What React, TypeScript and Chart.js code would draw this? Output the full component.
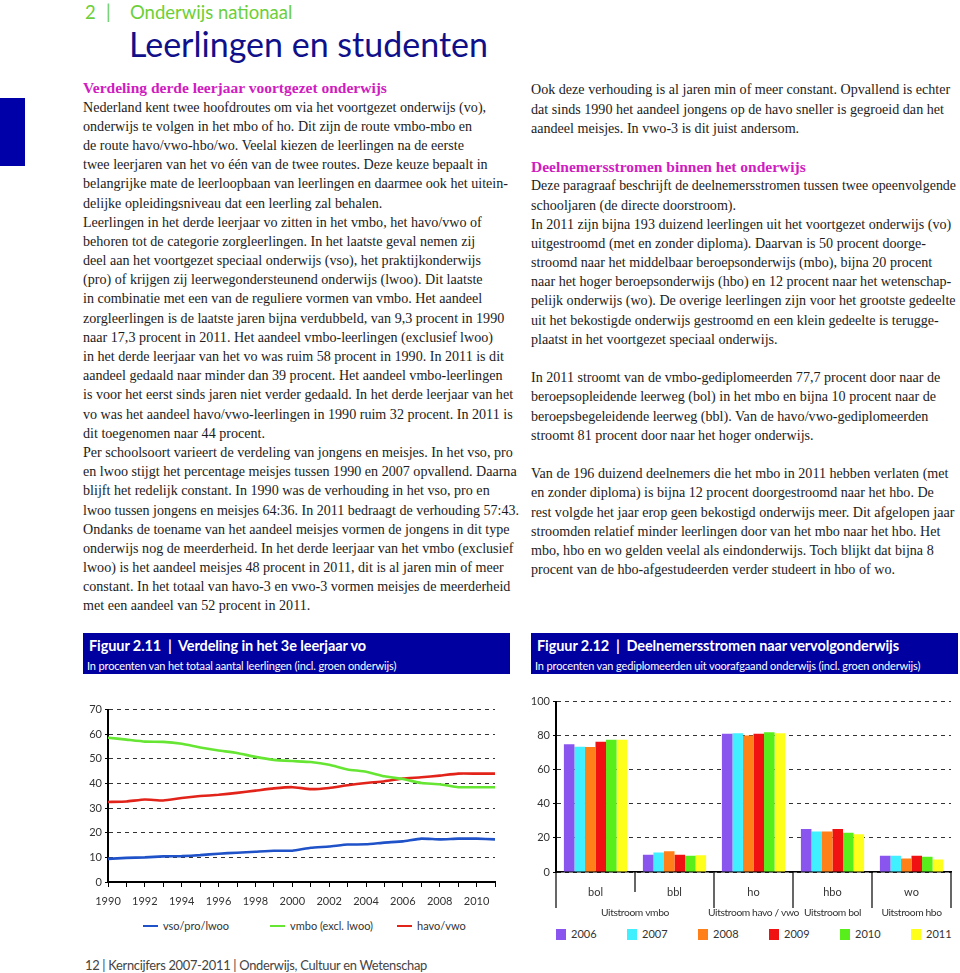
import React, { useEffect, useLayoutEffect, useRef } from "react";
import { Chart, registerables } from "chart.js";

Chart.register(...registerables);

// ---------- Figure 2.11 data ----------
const years = [
  "1990", "1991", "1992", "1993", "1994", "1995", "1996", "1997", "1998", "1999", "2000",
  "2001", "2002", "2003", "2004", "2005", "2006", "2007", "2008", "2009", "2010", "2011",
];
const vsoProLwoo = [9.4, 9.8, 10.0, 10.4, 10.5, 10.9, 11.5, 11.9, 12.3, 12.7, 12.7, 13.9, 14.4, 15.2, 15.3, 16.0, 16.5, 17.6, 17.3, 17.6, 17.6, 17.3];
const vmboExcl = [58.6, 57.8, 57.0, 56.9, 56.1, 54.6, 53.4, 52.4, 50.8, 49.6, 49.1, 48.7, 47.6, 45.7, 44.8, 42.9, 41.8, 40.2, 39.7, 38.5, 38.5, 38.5];
const havoVwo = [32.5, 32.7, 33.5, 33.1, 34.1, 34.9, 35.4, 36.2, 37.1, 38.0, 38.5, 37.7, 38.2, 39.3, 40.2, 40.9, 42.0, 42.5, 43.2, 44.0, 44.0, 44.0];
const lineSeriesNames = ["vso/pro/lwoo", "vmbo (excl. lwoo)", "havo/vwo"];
const lineColors = ["#1f52c8", "#66e633", "#e2231a"];

// ---------- Figure 2.12 data ----------
const barCategories = ["bol", "bbl", "ho", "hbo", "wo"];
const groupLabels = ["Uitstroom vmbo", "Uitstroom havo / vwo", "Uitstroom bol", "Uitstroom hbo"];
const groupSpans = [[0, 1], [2, 2], [3, 3], [4, 4]];
const barYears = ["2006", "2007", "2008", "2009", "2010", "2011"];
const v2006 = [74.9, 10.1, 81.2, 25.3, 9.5];
const v2007 = [73.5, 11.4, 81.4, 23.8, 9.5];
const v2008 = [73.3, 12.2, 80.1, 23.8, 7.9];
const v2009 = [76.4, 10.1, 81.2, 25.3, 9.5];
const v2010 = [77.6, 9.5, 82.0, 23.0, 8.9];
const v2011 = [77.6, 9.8, 81.4, 22.2, 7.4];
const barColors = ["#8a55ee", "#40f0ff", "#ff8019", "#f01212", "#58ee1c", "#ffff1c"];

// ---------- Text ----------
const leftHeading = "Verdeling derde leerjaar voortgezet onderwijs";
const leftLines = [
  "Nederland kent twee hoofdroutes om via het voortgezet onderwijs (vo),",
  "onderwijs te volgen in het mbo of ho. Dit zijn de route vmbo-mbo en",
  "de route havo/vwo-hbo/wo. Veelal kiezen de leerlingen na de eerste",
  "twee leerjaren van het vo één van de twee routes. Deze keuze bepaalt in",
  "belangrijke mate de leerloopbaan van leerlingen en daarmee ook het uitein-",
  "delijke opleidingsniveau dat een leerling zal behalen.",
  "Leerlingen in het derde leerjaar vo zitten in het vmbo, het havo/vwo of",
  "behoren tot de categorie zorgleerlingen. In het laatste geval nemen zij",
  "deel aan het voortgezet speciaal onderwijs (vso), het praktijkonderwijs",
  "(pro) of krijgen zij leerwegondersteunend onderwijs (lwoo). Dit laatste",
  "in combinatie met een van de reguliere vormen van vmbo. Het aandeel",
  "zorgleerlingen is de laatste jaren bijna verdubbeld, van 9,3 procent in 1990",
  "naar 17,3 procent in 2011. Het aandeel vmbo-leerlingen (exclusief lwoo)",
  "in het derde leerjaar van het vo was ruim 58 procent in 1990. In 2011 is dit",
  "aandeel gedaald naar minder dan 39 procent. Het aandeel vmbo-leerlingen",
  "is voor het eerst sinds jaren niet verder gedaald. In het derde leerjaar van het",
  "vo was het aandeel havo/vwo-leerlingen in 1990 ruim 32 procent. In 2011 is",
  "dit toegenomen naar 44 procent.",
  "Per schoolsoort varieert de verdeling van jongens en meisjes. In het vso, pro",
  "en lwoo stijgt het percentage meisjes tussen 1990 en 2007 opvallend. Daarna",
  "blijft het redelijk constant. In 1990 was de verhouding in het vso, pro en",
  "lwoo tussen jongens en meisjes 64:36. In 2011 bedraagt de verhouding 57:43.",
  "Ondanks de toename van het aandeel meisjes vormen de jongens in dit type",
  "onderwijs nog de meerderheid. In het derde leerjaar van het vmbo (exclusief",
  "lwoo) is het aandeel meisjes 48 procent in 2011, dit is al jaren min of meer",
  "constant. In het totaal van havo-3 en vwo-3 vormen meisjes de meerderheid",
  "met een aandeel van 52 procent in 2011.",
];
const rightLinesA = [
  "Ook deze verhouding is al jaren min of meer constant. Opvallend is echter",
  "dat sinds 1990 het aandeel jongens op de havo sneller is gegroeid dan het",
  "aandeel meisjes. In vwo-3 is dit juist andersom.",
  "",
];
const rightHeading = "Deelnemersstromen binnen het onderwijs";
const rightLinesB = [
  "Deze paragraaf beschrijft de deelnemersstromen tussen twee opeenvolgende",
  "schooljaren (de directe doorstroom).",
  "In 2011 zijn bijna 193 duizend leerlingen uit het voortgezet onderwijs (vo)",
  "uitgestroomd (met en zonder diploma). Daarvan is 50 procent doorge-",
  "stroomd naar het middelbaar beroepsonderwijs (mbo), bijna 20 procent",
  "naar het hoger beroepsonderwijs (hbo) en 12 procent naar het wetenschap-",
  "pelijk onderwijs (wo). De overige leerlingen zijn voor het grootste gedeelte",
  "uit het bekostigde onderwijs gestroomd en een klein gedeelte is terugge-",
  "plaatst in het voortgezet speciaal onderwijs.",
  "",
  "In 2011 stroomt van de vmbo-gediplomeerden 77,7 procent door naar de",
  "beroepsopleidende leerweg (bol) in het mbo en bijna 10 procent naar de",
  "beroepsbegeleidende leerweg (bbl). Van de havo/vwo-gediplomeerden",
  "stroomt 81 procent door naar het hoger onderwijs.",
  "",
  "Van de 196 duizend deelnemers die het mbo in 2011 hebben verlaten (met",
  "en zonder diploma) is bijna 12 procent doorgestroomd naar het hbo. De",
  "rest volgde het jaar erop geen bekostigd onderwijs meer. Dit afgelopen jaar",
  "stroomden relatief minder leerlingen door van het mbo naar het hbo. Het",
  "mbo, hbo en wo gelden veelal als eindonderwijs. Toch blijkt dat bijna 8",
  "procent van de hbo-afgestudeerden verder studeert in hbo of wo.",
];

const SANS = "Lato, 'Open Sans', sans-serif";
const SERIF = "'Liberation Serif', 'DejaVu Serif', serif";
const LH = 19.2;
const BODY_COLOR = "#1c1c1c";
const HEAD_COLOR = "#d01cc0";
const FIG_BLUE = "#0000a0";
const AXIS_TEXT = "#333333";

function FitLine({ text, maxWidth, style }: { text: string; maxWidth: number; style: any }) {
  const ref = useRef<HTMLSpanElement | null>(null);
  useLayoutEffect(() => {
    const el = ref.current;
    if (!el) return;
    el.style.transform = "";
    const w = el.getBoundingClientRect().width;
    if (w > maxWidth) el.style.transform = `scaleX(${maxWidth / w})`;
  }, [text, maxWidth]);
  return (
    <div style={style}>
      <span ref={ref} style={{ display: "inline-block", whiteSpace: "nowrap", transformOrigin: "left center" }}>
        {text || "\u00a0"}
      </span>
    </div>
  );
}

function Lines({ lines, heading, headingIndex, maxWidth }: { lines: string[]; heading: string; headingIndex: number; maxWidth: number }) {
  const items: { t: string; h: boolean }[] = lines.map((t) => ({ t, h: false }));
  items.splice(headingIndex, 0, { t: heading, h: true });
  return (
    <>
      {items.map((it, i) => (
        <FitLine
          key={i}
          text={it.t}
          maxWidth={maxWidth}
          style={{
            height: LH,
            lineHeight: LH + "px",
            whiteSpace: "nowrap",
            fontFamily: SERIF,
            fontSize: it.h ? 15.5 : 14.1,
            fontWeight: it.h ? 700 : 400,
            color: it.h ? HEAD_COLOR : BODY_COLOR,
          }}
        />
      ))}
    </>
  );
}

function LineChart() {
  const ref = useRef<HTMLCanvasElement | null>(null);
  useEffect(() => {
    if (!ref.current) return;
    const series = [vsoProLwoo, vmboExcl, havoVwo];
    const chart = new Chart(ref.current, {
      type: "line",
      data: {
        labels: years,
        datasets: series.map((d, i) => ({
          label: lineSeriesNames[i],
          data: d,
          borderColor: lineColors[i],
          backgroundColor: lineColors[i],
          borderWidth: 2.6,
          pointRadius: 0,
          tension: 0.15,
          fill: false,
        })),
      },
      options: {
        animation: false,
        responsive: false,
        events: [],
        layout: { padding: { top: 8, right: 0, left: 0, bottom: 0 } },
        plugins: { legend: { display: false }, tooltip: { enabled: false } },
        scales: {
          x: {
            type: "category",
            offset: false,
            grid: { display: true, drawOnChartArea: false, drawTicks: true, tickLength: 5, color: "#000", tickWidth: 1 },
            border: { display: true, color: "#000", width: 2 },
            ticks: {
              autoSkip: false,
              maxRotation: 0,
              minRotation: 0,
              padding: 8,
              color: AXIS_TEXT,
              font: { family: SANS, size: 11 },
              callback: (_v: any, i: number) => (Number(years[i]) % 2 === 0 ? years[i] : ""),
            },
            afterFit: (s: any) => {
              s.height = 28;
            },
          },
          y: {
            min: 0,
            max: 70,
            ticks: { stepSize: 10, padding: 3, color: AXIS_TEXT, font: { family: SANS, size: 11 } },
            grid: { color: "#333", lineWidth: 1, drawTicks: true, tickLength: 3, tickColor: "#000" },
            border: { display: true, color: "#000", width: 2, dash: [4, 4] },
            afterFit: (s: any) => {
              s.width = 25;
            },
          },
        },
      },
    } as any);
    return () => chart.destroy();
  }, []);
  return <canvas ref={ref} width={420} height={210} style={{ position: "absolute", left: 83, top: 700, width: 420, height: 210 }} />;
}

const groupPlugin = {
  id: "groupLabels",
  afterDraw(chart: any) {
    const { ctx, chartArea, scales } = chart;
    const x = scales.x;
    const n = barCategories.length;
    const centers = barCategories.map((_c, i) => x.getPixelForValue(i));
    const bounds = [chartArea.left];
    for (let i = 1; i < n; i++) bounds.push((centers[i - 1] + centers[i]) / 2);
    bounds.push(chartArea.right);
    ctx.save();
    ctx.strokeStyle = "#000";
    ctx.lineWidth = 1.2;
    bounds.forEach((b: number, i: number) => {
      const inner = groupSpans.some(([a, z]) => i > a && i <= z);
      const bottom = chartArea.bottom + (inner ? 20 : 36);
      ctx.beginPath();
      ctx.moveTo(b, chartArea.bottom);
      ctx.lineTo(b, bottom);
      ctx.stroke();
    });
    ctx.font = "10.3px " + SANS;
    try {
      (ctx as any).letterSpacing = "-0.4px";
    } catch (e) {}
    ctx.fillStyle = AXIS_TEXT;
    ctx.textAlign = "center";
    ctx.textBaseline = "middle";
    groupLabels.forEach((lbl, g) => {
      const [a, z] = groupSpans[g];
      const cx = (centers[a] + centers[z]) / 2;
      ctx.fillText(lbl, cx, chartArea.bottom + 41);
    });
    ctx.restore();
  },
};

function BarChart() {
  const ref = useRef<HTMLCanvasElement | null>(null);
  useEffect(() => {
    if (!ref.current) return;
    const values = [v2006, v2007, v2008, v2009, v2010, v2011];
    const chart = new Chart(ref.current, {
      type: "bar",
      data: {
        labels: barCategories,
        datasets: barYears.map((yr, i) => ({
          label: yr,
          data: values[i],
          backgroundColor: barColors[i],
          borderWidth: 0,
          categoryPercentage: 0.8,
          barPercentage: 1.0,
        })),
      },
      options: {
        animation: false,
        responsive: false,
        events: [],
        layout: { padding: { top: 8, right: 5, left: 0, bottom: 0 } },
        plugins: { legend: { display: false }, tooltip: { enabled: false } },
        scales: {
          x: {
            grid: { display: false, drawTicks: false },
            border: { display: true, color: "#000", width: 1.5 },
            ticks: { padding: 14, color: AXIS_TEXT, font: { family: SANS, size: 11 }, maxRotation: 0 },
            afterFit: (s: any) => {
              s.height = 50;
            },
          },
          y: {
            min: 0,
            max: 100,
            ticks: { stepSize: 20, padding: 3, color: AXIS_TEXT, font: { family: SANS, size: 11 } },
            grid: { color: "#333", lineWidth: 1, drawTicks: true, tickLength: 3, tickColor: "#000" },
            border: { display: true, color: "#000", width: 2, dash: [4, 4] },
            afterFit: (s: any) => {
              s.width = 25;
            },
          },
        },
      },
      plugins: [groupPlugin],
    } as any);
    return () => chart.destroy();
  }, []);
  return <canvas ref={ref} width={425} height={230} style={{ position: "absolute", left: 531, top: 692, width: 425, height: 230 }} />;
}

function FigHeader({ left, title, subtitle }: { left: number; title: string; subtitle: string }) {
  return (
    <div style={{ position: "absolute", left, top: 633, width: 427, height: 41, background: FIG_BLUE, color: "#fff", fontFamily: SANS }}>
      <div style={{ position: "absolute", left: 6, top: 4, fontSize: 14.5, fontWeight: 700, whiteSpace: "pre", letterSpacing: -0.1 }}>{title}</div>
      <div style={{ position: "absolute", left: 4, top: 26, fontSize: 11, whiteSpace: "pre", letterSpacing: -0.15 }}>{subtitle}</div>
    </div>
  );
}

export default function App() {
  return (
    <div style={{ position: "absolute", left: 0, top: 0, width: 960, height: 973, overflow: "hidden", background: "#fff" }}>
      {/* header */}
      <div style={{ position: "absolute", left: 85, top: 0, fontFamily: SANS, fontSize: 18.5, color: "#6ccf3a", whiteSpace: "nowrap", lineHeight: "24px" }}>
        <span>2</span>
        <span style={{ position: "absolute", left: 21 }}>|</span>
        <span style={{ position: "absolute", left: 45 }}>Onderwijs nationaal</span>
      </div>
      <div style={{ position: "absolute", left: 129, top: 22, fontFamily: SANS, fontSize: 34, color: "#10108a", whiteSpace: "nowrap", lineHeight: "44px" }}>
        Leerlingen en studenten
      </div>
      <div style={{ position: "absolute", left: 0, top: 98, width: 25, height: 68, background: "#0000a8" }} />

      {/* left column */}
      <div style={{ position: "absolute", left: 83, top: 78.4 }}>
        <Lines lines={leftLines} heading={leftHeading} headingIndex={0} maxWidth={436} />
      </div>
      {/* right column */}
      <div style={{ position: "absolute", left: 531, top: 80.4 }}>
        <Lines lines={[...rightLinesA, ...rightLinesB]} heading={rightHeading} headingIndex={rightLinesA.length} maxWidth={425} />
      </div>

      {/* figure headers */}
      <FigHeader left={83} title="Figuur 2.11  |  Verdeling in het 3e leerjaar vo" subtitle="In procenten van het totaal aantal leerlingen (incl. groen onderwijs)" />
      <FigHeader left={531} title="Figuur 2.12  |  Deelnemersstromen naar vervolgonderwijs" subtitle="In procenten van gediplomeerden uit voorafgaand onderwijs (incl. groen onderwijs)" />

      <LineChart />
      <div style={{ position: "absolute", left: 143, top: 918, display: "flex", fontFamily: SANS, fontSize: 11, color: AXIS_TEXT }}>
        {lineSeriesNames.map((nm, i) => (
          <div key={nm} style={{ width: 127, display: "flex", alignItems: "center", whiteSpace: "nowrap" }}>
            <span style={{ display: "inline-block", width: 15, height: 2.6, background: lineColors[i], marginRight: 5 }} />
            <span style={{ lineHeight: "16px" }}>{nm}</span>
          </div>
        ))}
      </div>

      <BarChart />
      <div style={{ position: "absolute", left: 556, top: 926, display: "flex", fontFamily: SANS, fontSize: 11, color: AXIS_TEXT }}>
        {barYears.map((yr, i) => (
          <div key={yr} style={{ width: 71, display: "flex", alignItems: "center", whiteSpace: "nowrap" }}>
            <span style={{ display: "inline-block", width: 10, height: 11, background: barColors[i], marginRight: 5 }} />
            <span style={{ lineHeight: "16px" }}>{yr}</span>
          </div>
        ))}
      </div>

      {/* footer */}
      <div style={{ position: "absolute", left: 85, top: 956, fontFamily: SANS, fontSize: 12.9, color: "#444", whiteSpace: "nowrap", lineHeight: "18px", letterSpacing: -0.3 }}>
        12 | Kerncijfers 2007-2011 | Onderwijs, Cultuur en Wetenschap
      </div>
    </div>
  );
}
